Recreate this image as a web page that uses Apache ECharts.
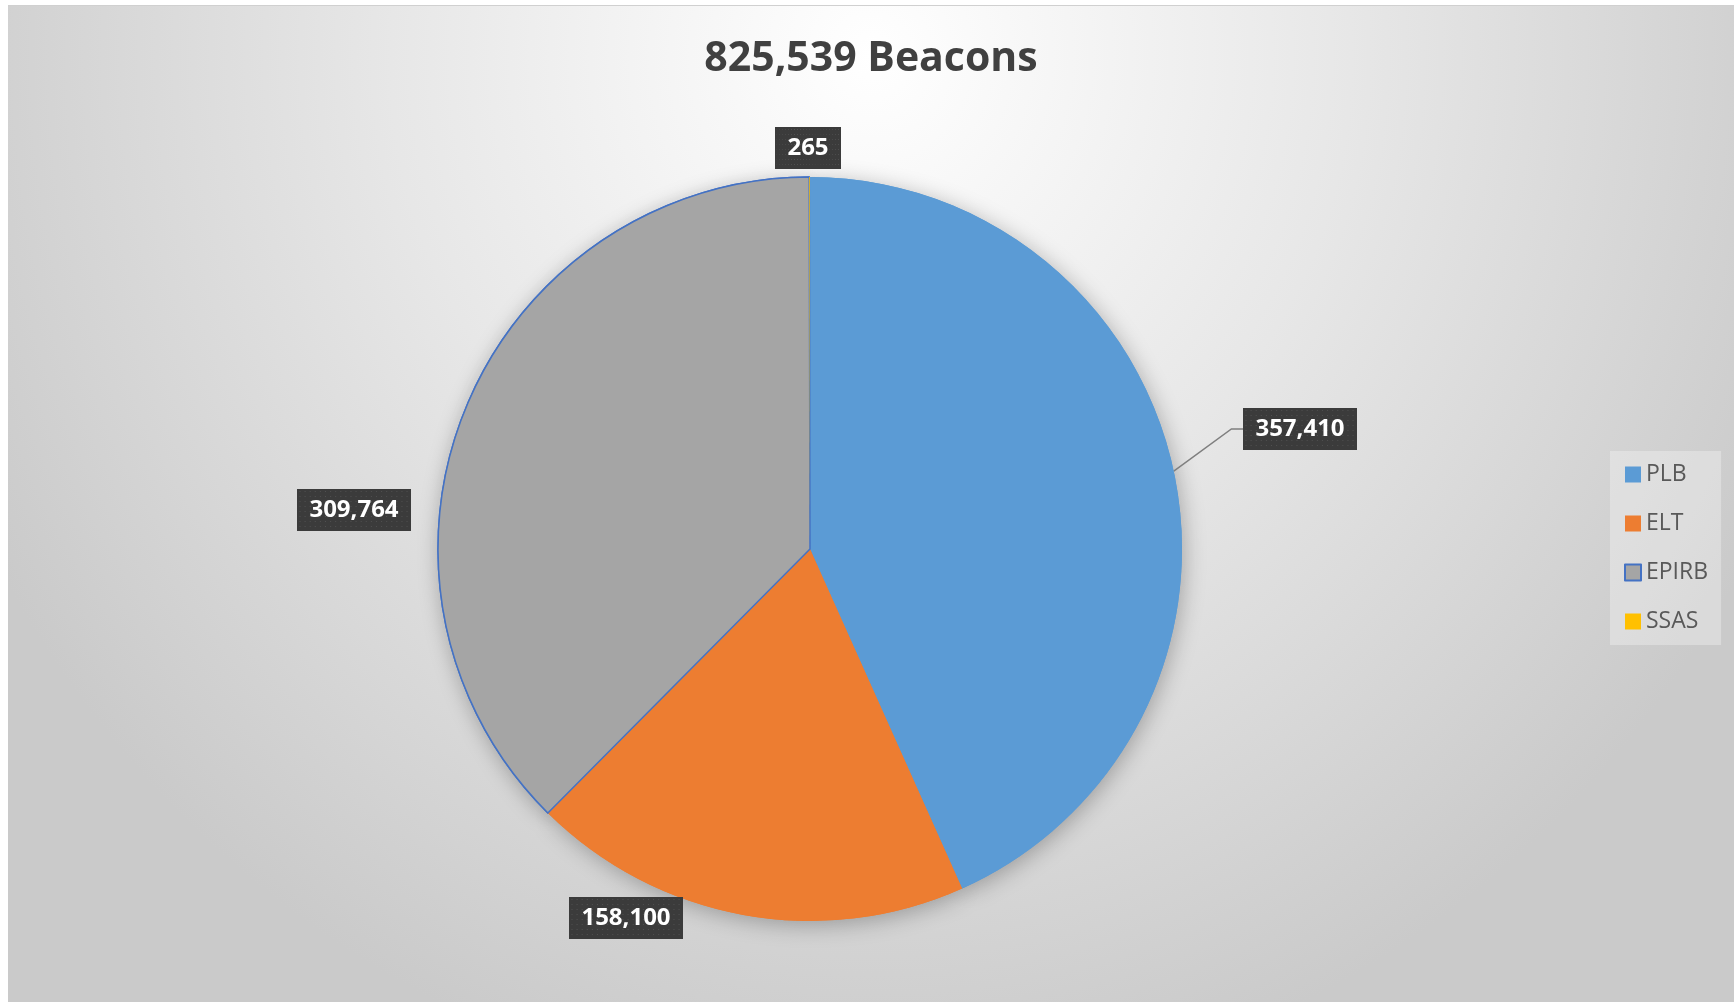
<!DOCTYPE html>
<html>
<head>
<meta charset="utf-8">
<script src="https://cdn.jsdelivr.net/npm/echarts@6/dist/echarts.min.js"></script>
<style>
  html, body { margin: 0; padding: 0; background: #ffffff; overflow: hidden; }
  #chart {
    position: absolute; left: 8px; top: 5px; width: 1726px; height: 997px;
    border-top: 1px solid #d0d0d0;
    background: radial-gradient(ellipse 1000px 1050px at 50% 5%, #ffffff 0%, #f4f4f4 22%, #e7e7e7 48%, #d8d8d8 75%, #cacaca 100%);
  }
</style>
</head>
<body>
<div id="chart"></div>
<script>
// ---- data ----
const categories = ['PLB', 'ELT', 'EPIRB', 'SSAS'];
const beaconCounts = [357410, 158100, 309764, 265];
const titleText = '825,539 Beacons';
const sliceColors = ['#5B9BD5', '#ED7D31', '#A5A5A5', '#FFC000'];

// ---- label placement (layout, px in chart container) ----
const labelPos = [[1292, 423], [618, 912], [346, 504], [800, 142]];

function makePattern(w, h) {
  const c = document.createElement('canvas');
  c.width = w; c.height = h;
  const g = c.getContext('2d');
  g.fillStyle = '#3b3b3b';
  g.fillRect(0, 0, w, h);
  g.fillStyle = '#505050';
  for (let y = 2; y < h; y += 5) {
    for (let x = 2; x < w; x += 5) g.fillRect(x, y, 1, 1);
  }
  return c;
}
const pattern = makePattern(111, 42);

const chart = echarts.init(document.getElementById('chart'));

function buildData(withShadow) {
  return categories.map((name, i) => {
    const style = { color: sliceColors[i] };
    if (name === 'EPIRB') { style.borderColor = '#4472C4'; style.borderWidth = 1.5; }
    if (withShadow) {
      style.shadowBlur = 22; style.shadowColor = 'rgba(0,0,0,0.28)';
      style.shadowOffsetX = 2; style.shadowOffsetY = 4;
    }
    const item = { name: name, value: beaconCounts[i], itemStyle: style };
    if (!withShadow) {
      item.labelLine = { show: i === 0 };
    }
    return item;
  });
}

const center = [802, 543];
const radius = 372;

chart.setOption({
  animation: false,
  title: {
    text: titleText,
    left: 'center',
    top: 22,
    textStyle: {
      fontFamily: 'Open Sans',
      fontWeight: 'bold',
      fontSize: 41,
      lineHeight: 52,
      color: '#404040'
    }
  },
  legend: {
    orient: 'vertical',
    left: 1602,
    top: 445,
    padding: [12, 13, 12, 14],
    backgroundColor: 'rgba(255,255,255,0.3)',
    itemWidth: 16,
    itemHeight: 16,
    itemGap: 26,
    icon: 'rect',
    data: categories,
    selectedMode: false,
    textStyle: {
      fontFamily: 'Open Sans',
      fontSize: 23,
      lineHeight: 22,
      color: '#595959'
    }
  },
  series: [
    {
      type: 'pie',
      name: 'shadow',
      silent: true,
      z: 1,
      center: center,
      radius: radius,
      startAngle: 90,
      clockwise: true,
      label: { show: false },
      labelLine: { show: false },
      emphasis: { disabled: true },
      data: buildData(true)
    },
    {
      type: 'pie',
      name: 'Beacons',
      z: 2,
      center: center,
      radius: radius,
      startAngle: 90,
      clockwise: true,
      avoidLabelOverlap: false,
      minAngle: 0,
      emphasis: { disabled: true },
      label: {
        show: true,
        position: 'outside',
        formatter: (p) => p.value.toLocaleString('en-US'),
        fontFamily: 'Open Sans',
        fontWeight: 'bold',
        fontSize: 24,
        lineHeight: 28,
        color: '#ffffff',
        padding: [7, 12],
        backgroundColor: { image: pattern },
        shadowColor: 'rgba(0,0,0,0.5)',
        shadowBlur: 7,
        shadowOffsetX: 2,
        shadowOffsetY: 3
      },
      labelLine: {
        show: true,
        length: 40,
        length2: 12,
        smooth: false,
        minTurnAngle: 90,
        lineStyle: { color: '#7f7f7f', width: 1.5 }
      },
      labelLayout: function (p) {
        const pos = labelPos[p.dataIndex];
        return { x: pos[0], y: pos[1], align: 'center', verticalAlign: 'middle' };
      },
      data: buildData(false)
    }
  ]
});
</script>
</body>
</html>
